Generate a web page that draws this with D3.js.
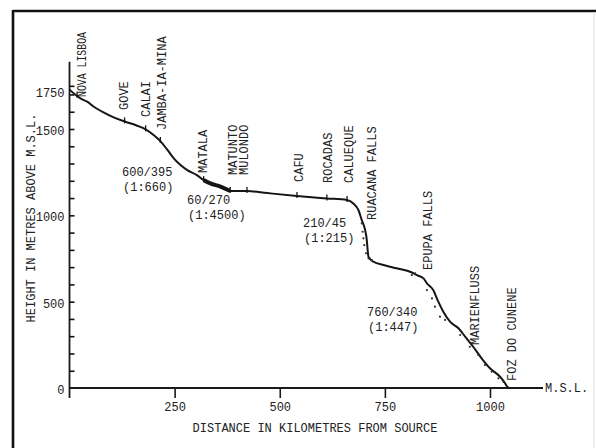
<!DOCTYPE html>
<html>
<head>
<meta charset="utf-8">
<script src="https://cdn.jsdelivr.net/npm/d3@7"></script>
<style>
html,body{margin:0;padding:0;background:#fff;}
svg{display:block;}
text{font-family:"Liberation Mono","DejaVu Sans Mono",monospace;fill:#222;}
</style>
</head>
<body>
<svg id="chart" width="596" height="448"></svg>
<script>
// ---- data ----
// river long profile: distance from source (km) and height above M.S.L. (m)
const profileKm = [0, 26, 42, 58, 81, 105, 133, 161, 181, 200, 216, 232, 248, 264, 280, 303, 319, 335, 359, 382, 422, 470, 541, 612, 660, 675, 687, 695, 703, 707, 709, 711, 723, 747, 778, 810, 826, 842, 850, 865, 877, 889, 905, 925, 941, 960, 980, 1000, 1024, 1036, 1041, 1045];
const profileM  = [1728, 1677, 1658, 1629, 1596, 1567, 1542, 1519, 1498, 1465, 1430, 1382, 1330, 1291, 1262, 1233, 1204, 1185, 1166, 1141, 1141, 1129, 1112, 1098, 1089, 1069, 1031, 973, 915, 857, 799, 760, 731, 712, 693, 673, 654, 635, 606, 567, 500, 442, 384, 346, 297, 239, 172, 114, 65, 27, 8, 0];

// rapids section drawn heavier (Matala to Matunto)
const rapidsKm = [319, 382];

// scattered rapid dots along the steep reaches
const dotKm = [695, 697, 699, 701, 705, 711, 719, 814, 822, 850, 862, 869, 881, 893, 929, 952, 972, 988, 1004, 1020, 1032];
const dotM  = [954, 905, 867, 828, 780, 751, 741, 654, 664, 567, 519, 471, 413, 394, 307, 239, 191, 133, 94, 56, 36];

// places along the river
const placeNames = ["NOVA LISBOA", "GOVE", "CALAI", "JAMBA-IA-MINA", "MATALA", "MATUNTO", "MULONDO", "CAFU", "ROCADAS", "CALUEQUE", "RUACANA FALLS", "EPUPA FALLS", "MARIENFLUSS", "FOZ DO CUNENE"];
const placeKm    = [18, 131, 181, 216, 319, 382, 422, 541, 612, 660, 710, 850, 970, 1045];
const placeTick  = [true, true, true, true, true, true, true, true, true, true, false, false, false, false];

// gradient annotations (drop m / distance km, ratio)
const gradTop    = ["600/395", "60/270", "210/45", "760/340"];
const gradBottom = ["(1:660)", "(1:4500)", "(1:215)", "(1:447)"];

// axis ticks
const xTicks = [250, 500, 750, 1000];
const yLabelTicks = [0, 500, 1000, 1500, 1750];
const yMinorTicks = [100, 200, 300, 400, 500, 600, 700, 800, 900, 1000, 1100, 1200, 1300, 1400, 1500, 1600, 1700, 1750];

const xTitle = "DISTANCE IN KILOMETRES FROM SOURCE";
const yTitle = "HEIGHT IN METRES ABOVE M.S.L.";
const mslLabel = "M.S.L.";

// ---- drawing ----
const svg = d3.select("#chart");
const x = d3.scaleLinear().domain([0, 1000]).range([69.5, 490]);
const y = d3.scaleLinear().domain([0, 1500]).range([388, 129]);

// frame
svg.append("line").attr("x1", 13).attr("x2", 596).attr("y1", 11).attr("y2", 11)
  .attr("stroke", "#111").attr("stroke-width", 2.6);
svg.append("line").attr("x1", 13).attr("x2", 13).attr("y1", 10).attr("y2", 448)
  .attr("stroke", "#111").attr("stroke-width", 2.6);
svg.append("line").attr("x1", 594).attr("x2", 594).attr("y1", 12).attr("y2", 448)
  .attr("stroke", "#e2e2e2").attr("stroke-width", 1.2);

// baseline (M.S.L.) and y axis line
const x0 = x(0);
svg.append("line").attr("x1", x0).attr("x2", 543).attr("y1", y(0)).attr("y2", y(0))
  .attr("stroke", "#1a1a1a").attr("stroke-width", 1.8);
svg.append("line").attr("x1", x0).attr("x2", x0).attr("y1", y(1890)).attr("y2", y(0) + 10)
  .attr("stroke", "#1a1a1a").attr("stroke-width", 1.8);

// x axis ticks + labels
const xAxis = svg.append("g").attr("transform", `translate(0,${y(0)})`)
  .call(d3.axisBottom(x).tickValues(xTicks).tickSize(10).tickPadding(4).tickFormat(d3.format("d")));
xAxis.select(".domain").remove();
xAxis.selectAll("line").attr("stroke", "#1a1a1a").attr("stroke-width", 1.6);
xAxis.selectAll("text").attr("font-size", 12).attr("font-family", "Liberation Mono").attr("fill", "#222");

// y minor ticks (inside, to the right)
const yMinor = svg.append("g").attr("transform", `translate(${x0},0)`)
  .call(d3.axisRight(y).tickValues(yMinorTicks).tickSize(5).tickFormat(""));
yMinor.select(".domain").remove();
yMinor.selectAll("line").attr("stroke", "#111").attr("stroke-width", 1.6);

// y labels
const yLab = svg.append("g").attr("transform", `translate(${x0},0)`)
  .call(d3.axisLeft(y).tickValues(yLabelTicks).tickSize(0).tickPadding(5).tickFormat(d3.format("d")));
yLab.select(".domain").remove();
yLab.selectAll("text").attr("font-size", 12).attr("font-family", "Liberation Mono").attr("fill", "#222")
  .attr("dy", (d) => d === 1750 ? "0.85em" : "0.45em");

// axis titles
svg.append("text").attr("x", 315).attr("y", 428).attr("dy", "0.35em").attr("text-anchor", "middle")
  .attr("font-size", 12).text(xTitle);
svg.append("text").attr("transform", "translate(31,218) rotate(-90)").attr("dy", "0.35em")
  .attr("text-anchor", "middle").attr("font-size", 12).text(yTitle);
svg.append("text").attr("x", 545).attr("y", y(0)).attr("dy", "0.35em").attr("font-size", 12).text(mslLabel);

// profile line
const profile = profileKm.map((k, i) => ({k, m: profileM[i]}));
const line = d3.line().x(d => x(d.k)).y(d => y(d.m)).curve(d3.curveMonotoneX);
svg.append("path").datum(profile).attr("d", line)
  .attr("fill", "none").attr("stroke", "#151515").attr("stroke-width", 2);
svg.append("path").datum(profile.filter(d => d.k >= rapidsKm[0] && d.k <= rapidsKm[1])).attr("d", line)
  .attr("fill", "none").attr("stroke", "#151515").attr("stroke-width", 4);

// rapids dots
svg.append("g").selectAll("circle").data(dotKm.map((k, i) => ({k, m: dotM[i]}))).join("circle")
  .attr("cx", d => x(d.k)).attr("cy", d => y(d.m)).attr("r", 1.1).attr("fill", "#333");

// height along the profile at a given distance
const heightAt = d3.scaleLinear().domain(profileKm).range(profileM);

// place ticks on the curve
svg.append("g").selectAll("line").data(placeKm.filter((k, i) => placeTick[i])).join("line")
  .attr("x1", d => x(d)).attr("x2", d => x(d))
  .attr("y1", d => y(heightAt(d)) - 4).attr("y2", d => y(heightAt(d)) + 2)
  .attr("stroke", "#151515").attr("stroke-width", 1.3);

// label layout: centre x and bottom y of each rotated label (px)
const labelLayout = {
  "NOVA LISBOA":   {cx: 82,  bottom: 97,  len: 65},
  "GOVE":          {cx: 124, bottom: 110},
  "CALAI":         {cx: 146, bottom: 117},
  "JAMBA-IA-MINA": {cx: 162, bottom: 130},
  "MATALA":        {cx: 203, bottom: 173},
  "MATUNTO":       {cx: 233, bottom: 175},
  "MULONDO":       {cx: 244, bottom: 175},
  "CAFU":          {cx: 299, bottom: 182},
  "ROCADAS":       {cx: 328, bottom: 183},
  "CALUEQUE":      {cx: 349, bottom: 183},
  "RUACANA FALLS": {cx: 372, bottom: 220},
  "EPUPA FALLS":   {cx: 428, bottom: 270},
  "MARIENFLUSS":   {cx: 475, bottom: 345},
  "FOZ DO CUNENE": {cx: 512, bottom: 381}
};
placeNames.forEach((name) => {
  const L = labelLayout[name];
  const t = svg.append("text").attr("transform", `translate(${L.cx},${L.bottom}) rotate(-90)`)
    .attr("dy", "0.35em").attr("font-size", 12).text(name);
  if (L.len) t.attr("textLength", L.len).attr("lengthAdjust", "spacingAndGlyphs");
});

// gradient annotations
const gradPos = [[122, 172], [187, 200], [303, 223], [367, 312]];
gradTop.forEach((t, i) => {
  const [gx, gy] = gradPos[i];
  svg.append("text").attr("x", gx).attr("y", gy).attr("dy", "0.35em").attr("font-size", 12).text(t);
  svg.append("text").attr("x", gx + 1).attr("y", gy + 15).attr("dy", "0.35em").attr("font-size", 12).text(gradBottom[i]);
});
</script>
</body>
</html>
